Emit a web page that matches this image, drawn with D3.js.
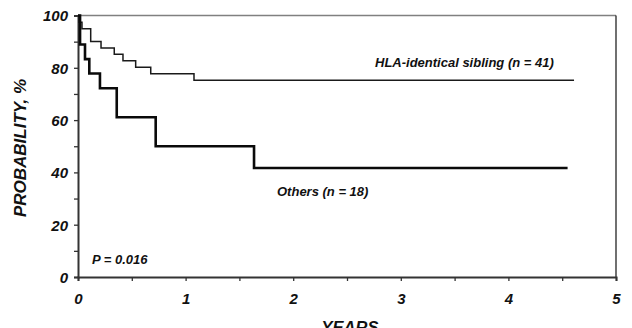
<!DOCTYPE html>
<html>
<head>
<meta charset="utf-8">
<script src="https://cdn.jsdelivr.net/npm/d3@7"></script>
<style>
  body { margin: 0; background: #fff; }
  svg text { font-family: "Liberation Sans", Arial, sans-serif; font-weight: bold; font-style: italic; fill: #111; }
</style>
</head>
<body>
<svg id="chart" width="632" height="328"></svg>
<script>
// Kaplan-Meier step curves
const sibling_years = [0, 0.01, 0.037, 0.118, 0.214, 0.337, 0.418, 0.536, 0.676, 1.078, 4.61]
const sibling_prob  = [100, 97.4, 94.9, 90.1, 87.6, 85.2, 82.7, 80.2, 77.7, 75.2, 75.2]
const others_years  = [0, 0.019, 0.065, 0.105, 0.204, 0.36, 0.722, 1.636, 4.55]
const others_prob   = [100, 88.9, 83.3, 77.8, 72.2, 61.1, 50.0, 41.7, 41.7]

const x_ticks = [0, 0.5, 1, 1.5, 2, 2.5, 3, 3.5, 4, 4.5, 5]
const y_ticks = [0, 10, 20, 30, 40, 50, 60, 70, 80, 90, 100]

const svg = d3.select("#chart")
const x = d3.scaleLinear().domain([0, 5]).range([78, 616])
const y = d3.scaleLinear().domain([0, 100]).range([277, 15.5])

// frame: top grey, right black
svg.append("line").attr("x1", x(0)).attr("x2", x(5)).attr("y1", y(100)).attr("y2", y(100))
    .attr("stroke", "#808080").attr("stroke-width", 1.3)
svg.append("line").attr("x1", x(5)).attr("x2", x(5)).attr("y1", y(100)).attr("y2", y(0))
    .attr("stroke", "#111").attr("stroke-width", 1.2)

const xAxis = svg.append("g").attr("transform", `translate(0,${y(0)})`)
    .call(d3.axisBottom(x).tickValues(x_ticks).tickSize(4)
        .tickFormat(d => Number.isInteger(d) ? d : ""))
const yAxis = svg.append("g").attr("transform", `translate(${x(0)},0)`)
    .call(d3.axisLeft(y).tickValues(y_ticks).tickSize(4)
        .tickFormat(d => d % 20 === 0 ? d : ""))

for (const ax of [xAxis, yAxis]) {
    ax.select(".domain").attr("stroke", "#333").attr("stroke-width", 2)
    ax.selectAll(".tick line").attr("stroke", "#333").attr("stroke-width", 1.3)
    ax.selectAll(".tick text").attr("font-size", 15).attr("font-family", null).attr("fill", "#111")
}
xAxis.selectAll(".tick text").attr("dy", null).attr("y", 27)
yAxis.selectAll(".tick text").attr("x", -10).attr("dy", "0.36em")

const line = d3.line().x(d => x(d[0])).y(d => y(d[1])).curve(d3.curveStepAfter)

svg.append("path").datum(d3.zip(sibling_years, sibling_prob))
    .attr("d", line).attr("fill", "none").attr("stroke", "#1a1a1a").attr("stroke-width", 1.5)
svg.append("path").datum(d3.zip(others_years, others_prob))
    .attr("d", line).attr("fill", "none").attr("stroke", "#0a0a0a").attr("stroke-width", 2.6)

svg.append("text").attr("x", 375).attr("y", 67).attr("font-size", 13)
    .text("HLA-identical sibling (n = 41)")
svg.append("text").attr("x", 277).attr("y", 196).attr("font-size", 13)
    .text("Others (n = 18)")
svg.append("text").attr("x", 92).attr("y", 264).attr("font-size", 13)
    .text("P = 0.016")

svg.append("text").attr("x", 350).attr("y", 333).attr("font-size", 16.5)
    .attr("text-anchor", "middle").text("YEARS")
svg.append("text").attr("transform", "translate(26,148) rotate(-90)").attr("font-size", 17)
    .attr("text-anchor", "middle").text("PROBABILITY, %")
</script>
</body>
</html>
